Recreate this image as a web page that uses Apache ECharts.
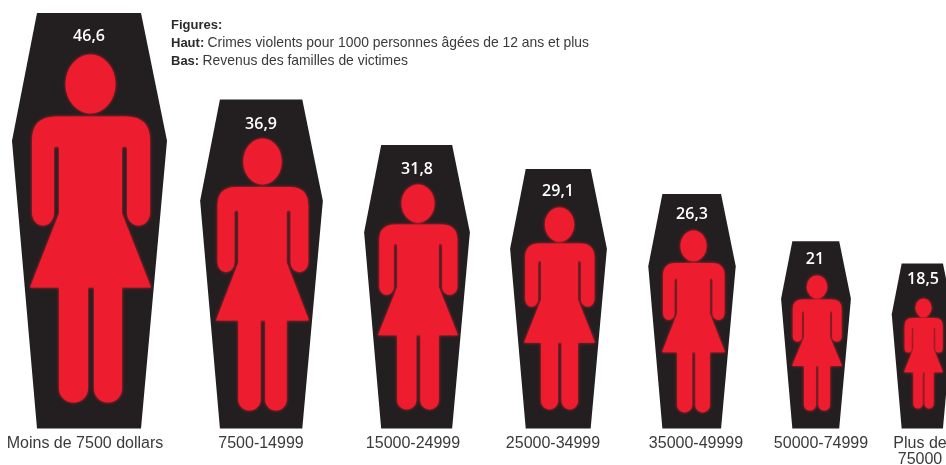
<!DOCTYPE html>
<html>
<head>
<meta charset="utf-8">
<style>
  html, body { margin: 0; padding: 0; background: #fff; }
  #main { width: 946px; height: 465px; overflow: hidden; }
</style>
<script src="https://cdn.jsdelivr.net/npm/echarts@6/dist/echarts.min.js"></script>
</head>
<body>
<div id="main"></div>
<script>
// donnees
var categories = ['Moins de 7500 dollars', '7500-14999', '15000-24999', '25000-34999', '35000-49999', '50000-74999', 'Plus de\n75000'];
var values = [46.6, 36.9, 31.8, 29.1, 26.3, 21, 18.5];

// mise en page, en pixels (les barres ne sont pas regulierement espacees dans l'original)
var coffinCenter = [89.5, 261.5, 417, 558.5, 692, 816, 922.5];
var figureCenter = [90.5, 262.5, 418, 559.5, 693.5, 817, 923.5];
var labelCenter = [85, 261, 413, 553, 696, 821, 920];
var valueCenter = [89, 261, 417, 558, 692, 815, 923];
var valueDrop = [23, 25, 24, 22, 20, 18, 16];
var figureWidth = [121, 93, 80, 71, 63, 50, 39];
var figureHeight = [348, 272, 225, 202, 182, 135, 110];
var figureLift = [26, 18, 19, 19, 16, 18, 20];

var coffinPerUnit = 155 / 46.6;
var bandWidth = 946 / categories.length;

var coffinPath = 'path://M25 0L129 0L155 128L129 416L25 416L0 128Z';
var figurePath = 'path://M65.5 83.5A25 29.5 0 1 1 115.5 83.5A25 29.5 0 1 1 65.5 83.5Z' +
    'M32 140Q32 116 56 116L126 116Q150 116 150 140L150 212A11.5 13 0 0 1 127 212L127 148Q127 146 125 146L124 146Q122 146 122 148' +
    'L122 213L151 287L122 287L122 388A14 14 0 0 1 94 388L94 287L88 287L88 388A14.5 14 0 0 1 59 388L59 287L30 287L59 213L59 148' +
    'Q59 146 57 146L56 146Q54 146 54 148L54 212A11 13 0 0 1 32 212Z';

function shiftFromBand(x, i) {
    return x - (i + 0.5) * bandWidth;
}

var coffinData = values.map(function (v, i) {
    return {
        value: v,
        symbolSize: [v * coffinPerUnit, '100%'],
        symbolOffset: [shiftFromBand(coffinCenter[i], i), 0],
        label: { offset: [shiftFromBand(valueCenter[i], i), valueDrop[i] - 8] }
    };
});

var figureData = values.map(function (v, i) {
    return {
        value: v,
        symbolSize: [figureWidth[i], figureHeight[i]],
        symbolOffset: [shiftFromBand(figureCenter[i], i), -figureLift[i]],
        label: { offset: [shiftFromBand(labelCenter[i], i), 2] }
    };
});

var myChart = echarts.init(document.getElementById('main'), null, { renderer: 'canvas' });

myChart.setOption({
    animation: false,
    backgroundColor: '#ffffff',
    title: {
        left: 166,
        top: 11,
        text: '{b|Figures:}\n{b|Haut:} {n|Crimes violents pour 1000 personnes âgées de 12 ans et plus}\n{b|Bas:} {n|Revenus des familles de victimes}',
        textStyle: {
            fontWeight: 'normal',
            fontSize: 12,
            rich: {
                b: { fontFamily: 'Liberation Sans', fontSize: 13, fontWeight: 'bold', color: '#2b2b2b', lineHeight: 18 },
                n: { fontFamily: 'Liberation Sans', fontSize: 13.9, fontWeight: 'normal', color: '#3a3a3a', lineHeight: 18 }
            }
        }
    },
    grid: { left: 0, right: 0, top: 13, bottom: 36.5 },
    xAxis: {
        type: 'category',
        data: categories,
        axisLine: { show: false },
        axisTick: { show: false },
        axisLabel: { show: false }
    },
    yAxis: {
        type: 'value',
        min: 0,
        max: 46.6,
        show: false
    },
    series: [
        {
            name: 'Cercueil',
            type: 'pictorialBar',
            symbol: coffinPath,
            symbolPosition: 'start',
            barCategoryGap: 0,
            barGap: '-100%',
            itemStyle: { color: '#231f20' },
            label: {
                show: true,
                position: 'insideTop',
                distance: 0,
                fontFamily: 'Open Sans',
                fontSize: 16,
                fontWeight: 600,
                color: '#ffffff',
                formatter: function (p) {
                    return String(p.value).replace('.', ',');
                }
            },
            z: 2,
            data: coffinData
        },
        {
            name: 'Victime',
            type: 'pictorialBar',
            symbol: figurePath,
            symbolPosition: 'start',
            barCategoryGap: 0,
            barGap: '-100%',
            itemStyle: { color: '#ed1c2e', shadowColor: '#ed1c2e', shadowBlur: 3 },
            label: {
                show: true,
                position: 'bottom',
                distance: 5,
                fontFamily: 'Liberation Sans',
                fontSize: 16,
                lineHeight: 16,
                align: 'center',
                color: '#3a3a3a',
                formatter: '{b}'
            },
            z: 3,
            data: figureData
        }
    ]
});

window.addEventListener('resize', function () {
    myChart.resize();
});
</script>
</body>
</html>
